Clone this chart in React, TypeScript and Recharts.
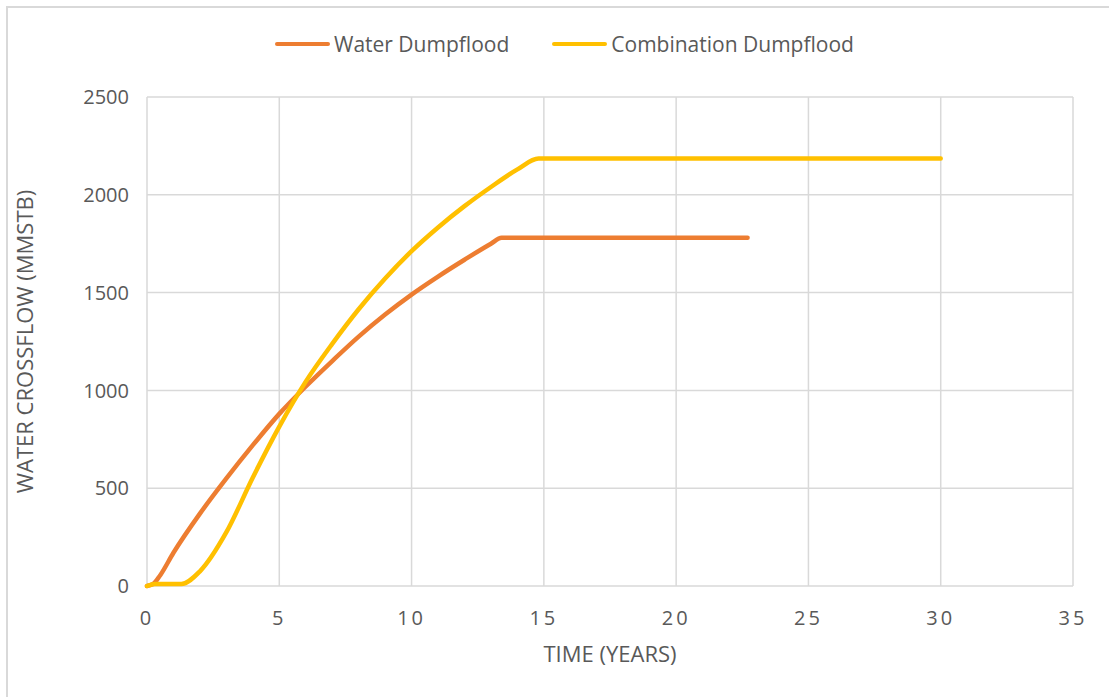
import React from 'react';
import { LineChart, Line, XAxis, YAxis, CartesianGrid } from 'recharts';

// time in years, water crossflow in MMSTB
const waterYears = [0, 0.25, 0.5, 1, 2, 3, 4, 5, 6, 7, 8, 9, 10, 11, 12, 13, 13.4, 22.7];
const waterCrossflow = [0, 12, 55, 170, 370, 550, 720, 880, 1020, 1150, 1275, 1388, 1490, 1582, 1668, 1750, 1780, 1780];

const comboYears = [0, 0.3, 1.3, 2, 3, 4, 5, 6, 7, 8, 9, 10, 11, 12, 13, 14, 14.8, 30];
const comboCrossflow = [0, 10, 10, 75, 275, 555, 815, 1045, 1238, 1415, 1572, 1712, 1833, 1942, 2040, 2130, 2185, 2185];

const xTicks = [0, 5, 10, 15, 20, 25, 30, 35];
const yTicks = [0, 500, 1000, 1500, 2000, 2500];

const seriesNames = ['Water Dumpflood', 'Combination Dumpflood'];
const seriesColors = ['#ED7D31', '#FFC000'];

const FONT = '"Open Sans", sans-serif';
const TEXT = '#595959';
const GRID = '#d9d9d9';

const waterData = waterYears.map((x, i) => ({ x, y: waterCrossflow[i] }));
const comboData = comboYears.map((x, i) => ({ x, y: comboCrossflow[i] }));

function LegendRow() {
  return (
    <div style={{ position: 'absolute', left: 275, top: 30, display: 'flex', alignItems: 'center', fontFamily: FONT, fontSize: 21, color: TEXT, whiteSpace: 'nowrap' }}>
      {seriesNames.map((name, i) => (
        <div key={name} style={{ display: 'flex', alignItems: 'center', marginRight: i === 0 ? 43 : 0 }}>
          <span style={{ display: 'inline-block', width: 55, height: 4, borderRadius: 2, background: seriesColors[i], marginRight: 4 }} />
          <span>{name}</span>
        </div>
      ))}
    </div>
  );
}

export default function App() {
  return (
    <div style={{ position: 'absolute', left: 0, top: 0, width: 1109, height: 697, overflow: 'hidden', background: '#fff' }}>
      <div style={{ position: 'absolute', left: 6, top: 6, width: 1120, height: 720, border: `2px solid ${GRID}`, boxSizing: 'border-box' }} />
      <div style={{ position: 'absolute', left: 0, top: 0 }}>
        <LineChart width={1109} height={697} margin={{ top: 97, right: 36, left: 87, bottom: 33 }}>
          <CartesianGrid stroke={GRID} strokeWidth={1.5} />
          <XAxis
            type="number"
            dataKey="x"
            domain={[0, 35]}
            ticks={xTicks}
            axisLine={false}
            tickLine={false}
            height={78}
            tick={{ fill: TEXT, fontSize: 20, fontFamily: FONT, letterSpacing: 3 }}
            dy={17}
            label={{ value: 'TIME (YEARS)', position: 'insideBottom', offset: 2, fill: TEXT, fontSize: 22, fontFamily: FONT }}
          />
          <YAxis
            type="number"
            domain={[0, 2500]}
            ticks={yTicks}
            axisLine={false}
            tickLine={false}
            width={60}
            tick={{ fill: TEXT, fontSize: 20, fontFamily: FONT }}
            dx={-10}
            label={{ value: 'WATER CROSSFLOW (MMSTB)', angle: -90, position: 'insideLeft', offset: -62, fill: TEXT, fontSize: 22, fontFamily: FONT, style: { textAnchor: 'middle' } }}
          />
          <Line
            data={waterData}
            dataKey="y"
            name={seriesNames[0]}
            type="monotone"
            stroke={seriesColors[0]}
            strokeWidth={4.5}
            strokeLinecap="round"
            dot={false}
            isAnimationActive={false}
          />
          <Line
            data={comboData}
            dataKey="y"
            name={seriesNames[1]}
            type="monotone"
            stroke={seriesColors[1]}
            strokeWidth={4.5}
            strokeLinecap="round"
            dot={false}
            isAnimationActive={false}
          />
        </LineChart>
      </div>
      <LegendRow />
    </div>
  );
}
